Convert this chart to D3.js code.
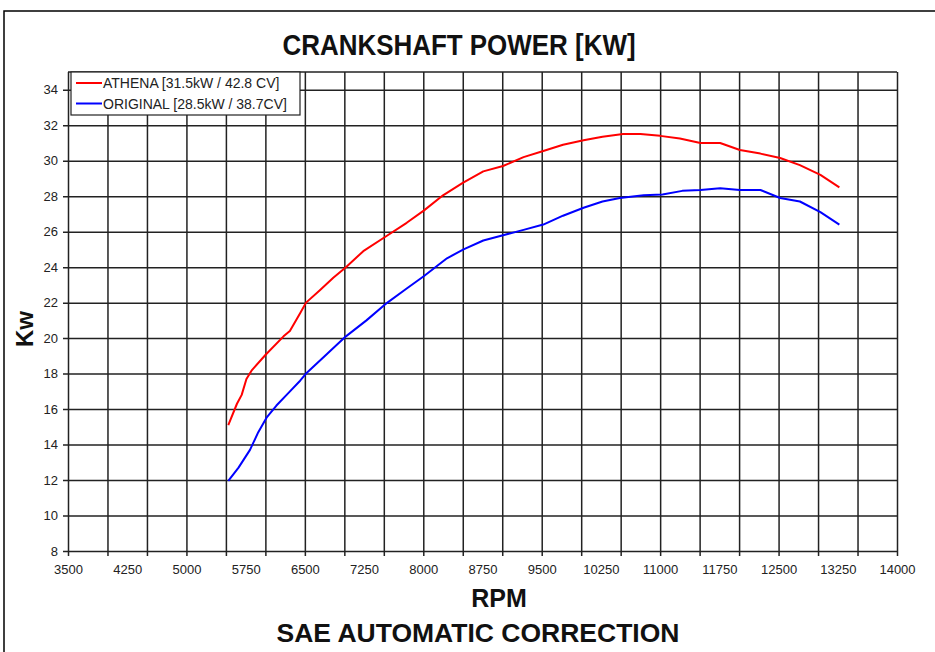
<!DOCTYPE html>
<html><head><meta charset="utf-8">
<script src="https://cdn.jsdelivr.net/npm/d3@7"></script>
<style>body{margin:0;background:#fff}svg{display:block}</style>
</head><body>
<svg id="c" width="935" height="652"></svg>
<script>
const title = "CRANKSHAFT POWER [KW]";
const xTitle = "RPM";
const yTitle = "Kw";
const footer = "SAE AUTOMATIC CORRECTION";
const seriesNames = ["ATHENA [31.5kW / 42.8 CV]", "ORIGINAL [28.5kW / 38.7CV]"];
const seriesColors = ["#ff0000", "#0000ff"];
const xTickLabels = [3500,4250,5000,5750,6500,7250,8000,8750,9500,10250,11000,11750,12500,13250,14000];
const xGrid = d3.range(3500, 14001, 500);
const yTickLabels = [8,10,12,14,16,18,20,22,24,26,28,30,32,34];

const rpmAthena = [5530,5640,5700,5760,5830,6000,6230,6310,6440,6515,6690,6860,7020,7240,7515,7790,8010,8250,8500,8760,9010,9270,9520,9770,10030,10270,10530,10750,11000,11250,11510,11760,12010,12270,12520,12770,13030,13270];
const kwAthena  = [15.1,16.3,16.8,17.7,18.2,19.05,20.1,20.4,21.4,22.0,22.7,23.4,24.0,24.9,25.7,26.5,27.2,28.05,28.75,29.4,29.7,30.2,30.55,30.9,31.15,31.35,31.5,31.5,31.4,31.25,31.0,31.0,30.6,30.4,30.15,29.75,29.2,28.5];
const rpmOriginal = [5530,5660,5805,5910,6020,6140,6290,6440,6515,6780,7020,7280,7515,7790,8010,8300,8510,8760,9010,9270,9520,9770,10030,10270,10490,10790,11030,11280,11510,11760,12010,12270,12520,12770,13030,13270];
const kwOriginal  = [11.95,12.7,13.7,14.7,15.55,16.2,16.9,17.6,18.0,19.1,20.1,21.0,21.9,22.8,23.5,24.5,25.0,25.5,25.8,26.1,26.4,26.9,27.35,27.7,27.9,28.05,28.1,28.3,28.35,28.45,28.35,28.35,27.9,27.7,27.1,26.4];

const series = [
  rpmAthena.map((r,i)=>({x:r,y:kwAthena[i]})),
  rpmOriginal.map((r,i)=>({x:r,y:kwOriginal[i]}))
];

const svg = d3.select("#c");
const L=68, R=897, T=72, B=551;
const x = d3.scaleLinear().domain([3500,14000]).range([L,R]);
const y = d3.scaleLinear().domain([8,35]).range([B,T]);

// outer frame
svg.append("rect").attr("x",4).attr("y",11).attr("width",960).attr("height",700)
  .attr("fill","none").attr("stroke","#000").attr("stroke-width",1.5);

const gridCol = "#222";
svg.append("g").attr("transform",`translate(0,${B})`)
  .call(d3.axisBottom(x).tickValues(xGrid).tickSize(-(B-T)).tickFormat(""))
  .call(g=>g.select(".domain").remove())
  .call(g=>g.selectAll("line").attr("stroke",gridCol).attr("stroke-width",1.5).attr("y1",5));
svg.append("g").attr("transform",`translate(${L},0)`)
  .call(d3.axisLeft(y).tickValues(yTickLabels).tickSize(-(R-L)).tickFormat(""))
  .call(g=>g.select(".domain").remove())
  .call(g=>g.selectAll("line").attr("stroke",gridCol).attr("stroke-width",1.5).attr("x1",-5));
svg.append("line").attr("x1",L).attr("x2",R).attr("y1",y(35)).attr("y2",y(35)).attr("stroke",gridCol).attr("stroke-width",1.5);

const xl = svg.append("g").attr("transform",`translate(0,${B})`)
  .call(d3.axisBottom(x).tickValues(xTickLabels).tickSize(0).tickPadding(14).tickFormat(d=>d));
xl.select(".domain").remove();
xl.selectAll("text").attr("font-family","Liberation Sans, Arial, sans-serif").attr("font-size",13).attr("fill","#222");
const yl = svg.append("g").attr("transform",`translate(${L},0)`)
  .call(d3.axisLeft(y).tickValues(yTickLabels).tickSize(0).tickPadding(10).tickFormat(d=>d));
yl.select(".domain").remove();
yl.selectAll("text").attr("font-family","Liberation Sans, Arial, sans-serif").attr("font-size",13).attr("fill","#222");

const line = d3.line().x(d=>x(d.x)).y(d=>y(d.y));
series.forEach((s,i)=>{
  svg.append("path").datum(s).attr("d",line).attr("fill","none")
    .attr("stroke",seriesColors[i]).attr("stroke-width",2).attr("stroke-linejoin","round");
});

const lg = svg.append("g");
lg.append("rect").attr("x",71).attr("y",72).attr("width",229).attr("height",43)
  .attr("fill","#fff").attr("stroke","#222").attr("stroke-width",1.2);
seriesNames.forEach((n,i)=>{
  const yy = 83 + i*20.5;
  lg.append("line").attr("x1",76).attr("x2",102).attr("y1",yy).attr("y2",yy)
    .attr("stroke",seriesColors[i]).attr("stroke-width",2);
  lg.append("text").attr("x",103).attr("y",yy+5).text(n)
    .attr("font-family","Liberation Sans, Arial, sans-serif").attr("font-size",14).attr("fill","#222");
});

svg.append("text").attr("transform","translate(459,55) scale(0.88,1)").attr("text-anchor","middle").text(title)
  .attr("font-family","Liberation Sans, Arial, sans-serif")
  .attr("font-weight","bold").attr("font-size",29.5).attr("fill","#111");
svg.append("text").attr("x",499).attr("y",607).attr("text-anchor","middle").text(xTitle)
  .attr("font-family","Liberation Sans, Arial, sans-serif").attr("font-weight","bold").attr("font-size",25).attr("fill","#111");
svg.append("text").attr("x",478).attr("y",642).attr("text-anchor","middle").text(footer)
  .attr("font-family","Liberation Sans, Arial, sans-serif").attr("font-weight","bold").attr("font-size",26.5).attr("fill","#111");
svg.append("text").attr("transform","translate(33,329) rotate(-90)").attr("text-anchor","middle").text(yTitle)
  .attr("font-family","Liberation Sans, Arial, sans-serif").attr("font-weight","bold").attr("font-size",24).attr("fill","#111");
</script>
</body></html>
